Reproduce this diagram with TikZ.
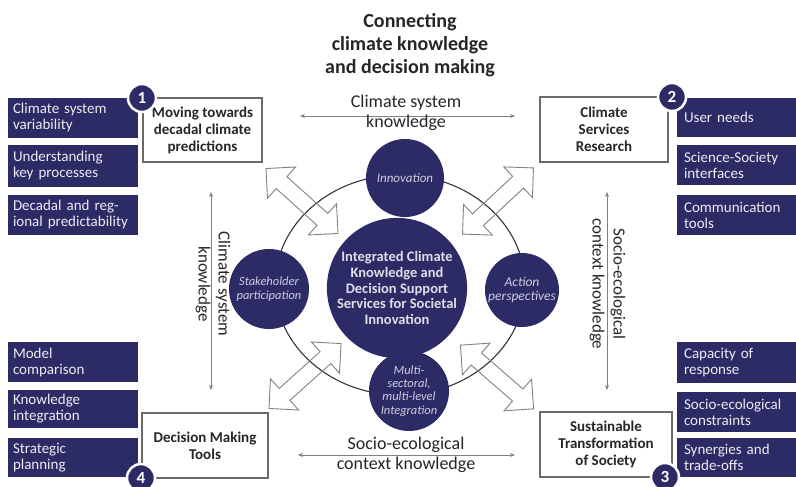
\documentclass[tikz,border=0pt]{standalone}
\usepackage{fontspec}
\setmainfont{Carlito}
\usetikzlibrary{arrows.meta}
\definecolor{navy}{RGB}{44,43,102}
\definecolor{txtdark}{RGB}{38,38,38}
\definecolor{boxtxt}{RGB}{236,236,242}
\definecolor{circtxt}{RGB}{205,205,222}
\definecolor{centtxt}{RGB}{222,222,230}
\definecolor{boxgray}{RGB}{106,106,106}
\definecolor{arrgray}{RGB}{128,128,128}
\definecolor{blkgray}{RGB}{130,130,130}
\definecolor{ringcol}{RGB}{50,50,66}
\newcommand{\blkarrow}[2]{%
  \draw[blk,shift={#1},rotate=#2] (-48.5,0) -- (-27.5,21) -- (-27.5,8) -- (27.5,8) -- (27.5,21) -- (48.5,0)
    -- (27.5,-21) -- (27.5,-8) -- (-27.5,-8) -- (-27.5,-21) -- cycle;}
\begin{document}
\begin{tikzpicture}[x=1pt,y=-1pt,
 lbox/.style={fill=navy,text=boxtxt,font=\fontsize{15}{16}\selectfont,align=left,inner xsep=5,inner ysep=0,text width=120,minimum height=40},
 rbox/.style={lbox,inner xsep=7,text width=105},
 wbox/.style={draw=boxgray,fill=white,line width=1.1,text=txtdark,font=\bfseries\fontsize{15}{17}\selectfont,align=center,inner sep=0},
 numc/.style={circle,fill=navy,draw=white,line width=2.5,minimum size=28,inner sep=0,text=white,font=\bfseries\fontsize{17}{17}\selectfont},
 bigc/.style={circle,fill=navy,inner sep=0},
 smallc/.style={bigc,minimum size=78,text=circtxt,font=\itshape\fontsize{13}{14}\selectfont,align=center},
 lab/.style={text=txtdark,font=\fontsize{18}{20}\selectfont,align=center},
 kn/.style={draw=arrgray,line width=0.9,{Stealth[length=5pt,width=4pt]}-{Stealth[length=5pt,width=4pt]}},
 blk/.style={draw=blkgray,line width=0.9}
]
\fill[white] (0,0) rectangle (796,487);
\useasboundingbox (0,0) rectangle (796,487);

% title
\node[font=\bfseries\fontsize{20}{23}\selectfont,text=txtdark,align=center] (title) at (410,45) {Connecting\\climate knowledge\\and decision making};

% ring
\draw[ringcol,line width=1.1] (400,285) ellipse [x radius=125, y radius=110];

% block double arrows
\blkarrow{(302,201)}{-42}
\blkarrow{(498,201)}{43}
\blkarrow{(305,376)}{42}
\blkarrow{(497,377)}{-41}

% circles
\node[smallc] (inno) at (405,178) {Innovation};
\node[smallc,minimum size=80,font=\itshape\fontsize{12.5}{13.5}\selectfont] (stake) at (269,289) {Stakeholder\\participation};
\node[smallc,minimum size=74,font=\itshape\fontsize{13.5}{14}\selectfont] (act) at (522,290) {Action\\perspectives};
\node[smallc,minimum size=80,font=\itshape\fontsize{12.5}{13.2}\selectfont] (multi) at (409,391) {Multi-\\sectoral,\\multi-level\\Integration};
\node[bigc,minimum size=134,text=centtxt,font=\bfseries\fontsize{14.5}{15.8}\selectfont,align=center] (core) at (397,288) {Integrated Climate\\Knowledge and\\Decision Support\\Services for Societal\\Innovation};

% left boxes
\node[lbox,minimum height=39] (l1) at (73,118) {Climate system\\variability};
\node[lbox,minimum height=42] (l2) at (73,166) {Understanding\\key processes};
\node[lbox] (l3) at (73,215) {Decadal and reg-\\\mbox{ional predictability}};
\node[lbox] (l4) at (73,362) {Model\\comparison};
\node[lbox,minimum height=38] (l5) at (73,409) {Knowledge\\integration};
\node[lbox,minimum height=39] (l6) at (73,457.5) {Strategic\\planning};

% right boxes
\node[rbox,minimum height=39] (r1) at (736.5,117.5) {User needs};
\node[rbox] (r2) at (736.5,165) {Science-Society\\interfaces};
\node[rbox] (r3) at (736.5,215) {Communication\\tools};
\node[rbox,minimum height=41] (r4) at (736.5,362.5) {Capacity of\\response};
\node[rbox] (r5) at (736.5,412) {Socio-ecological\\constraints};
\node[rbox,minimum height=39] (r6) at (736.5,457.5) {Synergies and\\trade-offs};

% white boxes
\node[wbox,minimum width=119,minimum height=64] (b1) at (202.5,130) {Moving towards\\decadal climate\\predictions};
\node[wbox,minimum width=128,minimum height=65] (b2) at (604,129.5) {Climate\\Services\\Research};
\node[wbox,minimum width=132,minimum height=65] (b3) at (606,444.5) {Sustainable\\Transformation\\of Society};
\node[wbox,minimum width=126,minimum height=65] (b4) at (205,445.5) {Decision Making\\Tools};

% number circles
\node[numc] (n1) at (142,98) {1};
\node[numc] (n2) at (672,97) {2};
\node[numc] (n3) at (665,477) {3};
\node[numc] (n4) at (141,478) {4};

% knowledge arrows
\coordinate (ta) at (300,116); \coordinate (tb) at (515,116);
\coordinate (ba) at (298,455); \coordinate (bb) at (515,455);
\coordinate (la) at (211,192); \coordinate (lb) at (211,390);
\coordinate (ra) at (607,192); \coordinate (rb) at (607,390);
\draw[kn] (ta) -- (tb);
\draw[kn] (ba) -- (bb);
\draw[kn] (la) -- (lb);
\draw[kn] (ra) -- (rb);
\node[lab] (tl) at (406,113) {Climate system\\knowledge};
\node[lab] (bl) at (406,455) {Socio-ecological\\context knowledge};
\node[lab,rotate=-90,font=\fontsize{17}{20}\selectfont] (ll) at (213,284) {Climate system\\knowledge};
\node[lab,rotate=-90,font=\fontsize{17}{21}\selectfont] (rl) at (607.5,284) {Socio-ecological\\context knowledge};
\end{tikzpicture}
\end{document}
